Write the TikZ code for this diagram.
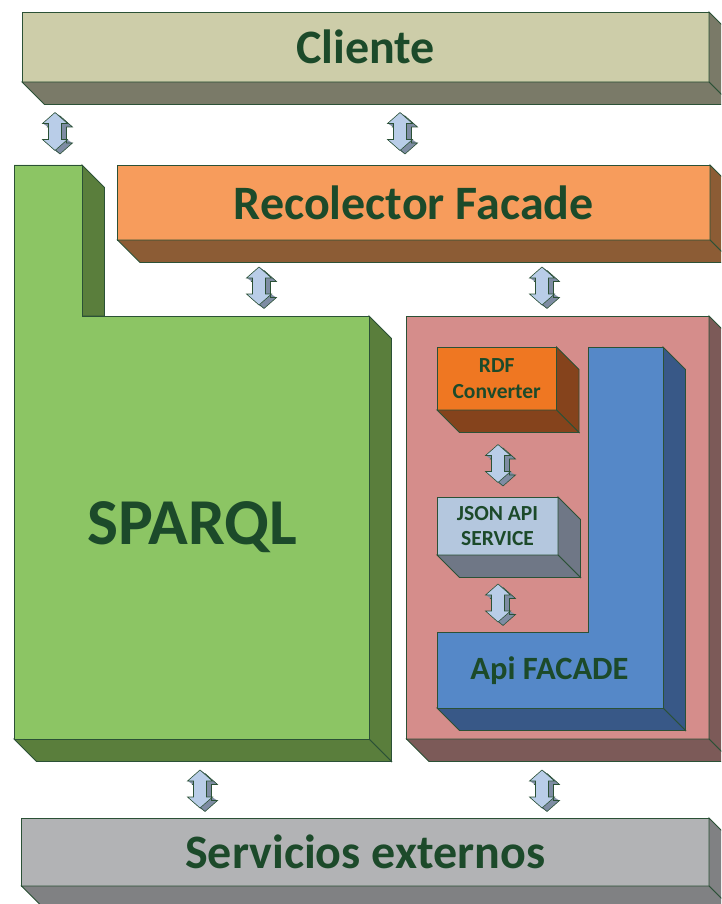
\documentclass[tikz,border=0pt]{standalone}
\usepackage{fontspec}
\setmainfont{Carlito}
\usetikzlibrary{calc}

\definecolor{edgec}{HTML}{2B5136}
\definecolor{txt}{HTML}{1C4A2A}
\definecolor{clienteF}{HTML}{CDCDA9}
\definecolor{clienteS}{HTML}{7A7A68}
\definecolor{recolF}{HTML}{F79C5C}
\definecolor{recolS}{HTML}{8C5C35}
\definecolor{sparqlF}{HTML}{8CC564}
\definecolor{sparqlS}{HTML}{5A7E3C}
\definecolor{pinkF}{HTML}{D58D8B}
\definecolor{pinkS}{HTML}{7C5A58}
\definecolor{rdfF}{HTML}{EF7722}
\definecolor{rdfS}{HTML}{85431C}
\definecolor{jsonF}{HTML}{B4C7DE}
\definecolor{jsonS}{HTML}{6F7786}
\definecolor{apiF}{HTML}{5588C8}
\definecolor{apiS}{HTML}{385887}
\definecolor{servF}{HTML}{B2B3B5}
\definecolor{servS}{HTML}{808183}
\definecolor{arrF}{HTML}{B9CDE8}
\definecolor{arrS}{HTML}{7E8CA3}

% extrusion depth of the blocks
\newcommand{\dep}{22.5}

% right and bottom faces of a rectangular block node
\newcommand{\blockside}[2]{%
  \filldraw[edge, fill=#2] (#1.north east) -- ++(\dep,\dep)
    -- ($(#1.south east)+(\dep,\dep)$) -- (#1.south east) -- cycle;
  \filldraw[edge, fill=#2] (#1.south west) -- ++(\dep,\dep)
    -- ($(#1.south east)+(\dep,\dep)$) -- (#1.south east) -- cycle;
}

% outline of the double block arrow, centred on the origin
\newcommand{\dblshape}{(0,-19) -- (12.5,-8) -- (6.5,-8) -- (6.5,8) -- (12.5,8) -- (0,19)
  -- (-12.5,8) -- (-6.5,8) -- (-6.5,-8) -- (-12.5,-8) -- cycle}

\tikzset{
  edge/.style={draw=edgec, line width=0.9pt, line join=miter},
  block/.style={edge, rectangle, inner sep=0pt, outer sep=0pt,
    font=\bfseries, text=txt, align=center},
  big/.style={font=\fontsize{48}{56}\selectfont\bfseries},
  small/.style={font=\fontsize{21.5}{25.5}\selectfont\bfseries},
  updown/.pic={
    \foreach \t in {0.1,0.2,...,1.0}{
      \begin{scope}[shift={(5*\t,3.5*\t)}]
        \fill[arrS] \dblshape;
      \end{scope}
    }
    \begin{scope}[shift={(5,3.5)}]
      \draw[draw=edgec, line width=0.6pt] \dblshape;
    \end{scope}
    \filldraw[draw=edgec, line width=0.6pt, fill=arrF] \dblshape;
  }
}

\begin{document}
\begin{tikzpicture}[x=1pt, y=-1pt]
\clip (0,0) rectangle (721,904);
\fill[white] (0,0) rectangle (721,904);

% ---- Cliente ----
\node[block, big, fill=clienteF, minimum width=687, minimum height=70]
  (cliente) at (365.5,47) {Cliente};
\blockside{cliente}{clienteS}

% ---- Recolector Facade ----
\node[block, big, fill=recolF, minimum width=592.5, minimum height=75]
  (recol) at (413.75,202.5) {Recolector Facade};
\blockside{recol}{recolS}

% ---- SPARQL (L-shaped block) ----
\coordinate (sq1) at (14,165);
\coordinate (sq2) at (82,165);
\coordinate (sq3) at (82,316);
\coordinate (sq4) at (369,316);
\coordinate (sq5) at (369,739);
\coordinate (sq6) at (14,739);
\filldraw[edge, fill=sparqlS] (sq2) -- ++(\dep,\dep) -- ($(sq3)+(\dep,0)$) -- (sq3) -- cycle;
\filldraw[edge, fill=sparqlS] (sq4) -- ++(\dep,\dep) -- ($(sq5)+(\dep,\dep)$) -- (sq5) -- cycle;
\filldraw[edge, fill=sparqlS] (sq6) -- ++(\dep,\dep) -- ($(sq5)+(\dep,\dep)$) -- (sq5) -- cycle;
\filldraw[edge, fill=sparqlF] (sq1) -- (sq2) -- (sq3) -- (sq4) -- (sq5) -- (sq6) -- cycle;
\node[text=txt, font=\fontsize{65.5}{72}\selectfont\bfseries] (sparql) at (192.5,527.5) {SPARQL};

% ---- service container ----
\node[block, fill=pinkF, minimum width=302.5, minimum height=423]
  (cont) at (557.75,527.5) {};
\blockside{cont}{pinkS}

% ---- RDF Converter ----
\node[block, small, fill=rdfF, minimum width=119.5, minimum height=63]
  (rdf) at (496.75,378.5) {RDF\\Converter};
\blockside{rdf}{rdfS}

% ---- JSON API SERVICE ----
\node[block, small, fill=jsonF, minimum width=121, minimum height=58]
  (json) at (497.5,526) {JSON API\\SERVICE};
\blockside{json}{jsonS}

% ---- Api FACADE (L-shaped block) ----
\coordinate (ap1) at (588,347);
\coordinate (ap2) at (663,347);
\coordinate (ap3) at (663,708);
\coordinate (ap4) at (437,708);
\coordinate (ap5) at (437,632.5);
\coordinate (ap6) at (588,632.5);
\filldraw[edge, fill=apiS] (ap2) -- ++(\dep,\dep) -- ($(ap3)+(\dep,\dep)$) -- (ap3) -- cycle;
\filldraw[edge, fill=apiS] (ap4) -- ++(\dep,\dep) -- ($(ap3)+(\dep,\dep)$) -- (ap3) -- cycle;
\filldraw[edge, fill=apiF] (ap1) -- (ap2) -- (ap3) -- (ap4) -- (ap5) -- (ap6) -- cycle;
\node[text=txt, font=\fontsize{32.5}{38}\selectfont\bfseries] (api) at (549.5,670.5) {Api FACADE};

% ---- Servicios externos ----
\node[block, big, fill=servF, minimum width=687.5, minimum height=68]
  (serv) at (365.25,852) {Servicios externos};
\blockside{serv}{servS}

% ---- double arrows between the layers ----
\coordinate (a1) at (55,131.5);
\coordinate (a2) at (400,131.5);
\coordinate (a3) at (259,286);
\coordinate (a4) at (542,286);
\coordinate (a5) at (498,463.5);
\coordinate (a6) at (498,603);
\coordinate (a7) at (200,789);
\coordinate (a8) at (542,789);
\foreach \c in {a1,a2,a3,a4,a5,a6,a7,a8}{
  \pic at (\c) {updown};
}
\end{tikzpicture}
\end{document}
